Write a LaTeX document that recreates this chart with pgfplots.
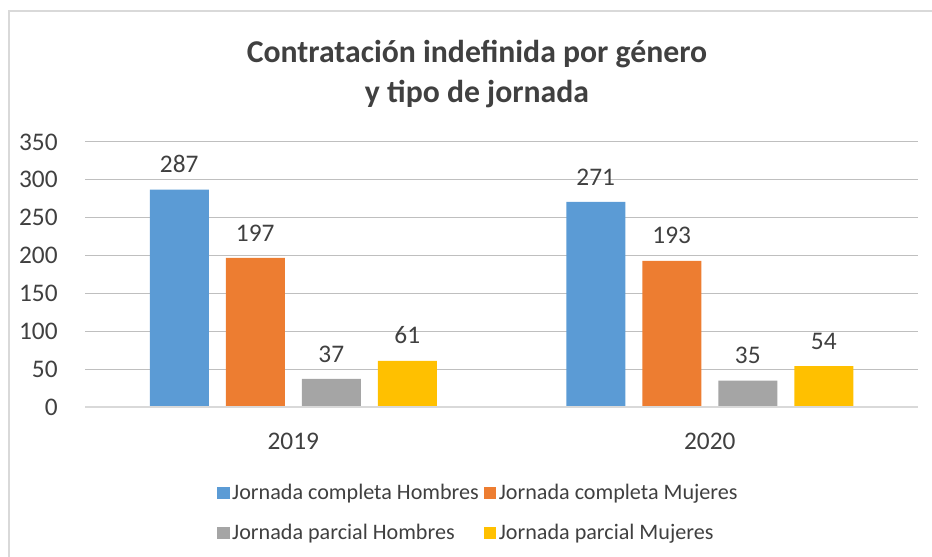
\documentclass[border=0pt]{standalone}
\usepackage{fontspec}
\setmainfont{Carlito}
\usepackage{pgfplots}
\pgfplotsset{compat=1.18}
\definecolor{cblue}{HTML}{5B9BD5}
\definecolor{corange}{HTML}{ED7D31}
\definecolor{cgray}{HTML}{A5A5A5}
\definecolor{cyellow}{HTML}{FFC000}
\definecolor{grid}{HTML}{D9D9D9}
\definecolor{txt}{HTML}{404040}
\definecolor{tick}{HTML}{404040}
\begin{document}
\begin{tikzpicture}
\path[use as bounding box] (0pt,0pt) rectangle (699pt,417.75pt);
\draw[grid,line width=1.5pt] (6.75pt,-5pt) -- (6.75pt,409.5pt) -- (705pt,409.5pt);
\node[align=center,font=\bfseries\fontsize{23.8}{30}\selectfont,text=txt] at (357.75pt,362pt) {Contratación indefinida por género\\y tipo de jornada};
\begin{axis}[
  at={(63.75pt,112.5pt)}, anchor=south west,
  scale only axis, width=624.75pt, height=198.75pt,
  ybar=12.75pt, bar width=44.25pt,
  xmin=-0.5, xmax=1.5, ymin=0, ymax=350,
  xtick={0,1}, xticklabels={2019,2020},
  ytick={0,50,...,350},
  axis line style={draw=none},
  major tick length=0pt,
  xmajorgrids=false, ymajorgrids=true, grid style={grid,line width=0.75pt},
  tick label style={font=\fontsize{19}{22}\selectfont,text=tick},
  yticklabel style={xshift=-17pt},
  xticklabel style={yshift=-16pt},
  /pgf/number format/assume math mode=true,
  nodes near coords,
  nodes near coords style={font=\fontsize{19}{22}\selectfont,text=txt,yshift=9pt},
  legend columns=2,
  legend style={draw=none,fill=none,at={(0.158,-0.281)},anchor=north west,
    font=\fontsize{16.6}{20}\selectfont,text=txt,
    /tikz/every even column/.append style={column sep=1.5pt},
    row sep=13pt, inner sep=0pt},
  legend cell align=left,
  legend image code/.code={\fill[#1] (0pt,-4.6pt) rectangle (9.5pt,4.6pt);},
]
\addplot[fill=cblue,draw=none] coordinates {(0,287) (1,271)};
\addplot[fill=corange,draw=none] coordinates {(0,197) (1,193)};
\addplot[fill=cgray,draw=none] coordinates {(0,37) (1,35)};
\addplot[fill=cyellow,draw=none] coordinates {(0,61) (1,54)};
\legend{Jornada completa Hombres,Jornada completa Mujeres,Jornada parcial Hombres,Jornada parcial Mujeres}
\draw[grid,line width=1pt] (rel axis cs:0,0) -- (rel axis cs:1,0);
\end{axis}
\end{tikzpicture}
\end{document}
